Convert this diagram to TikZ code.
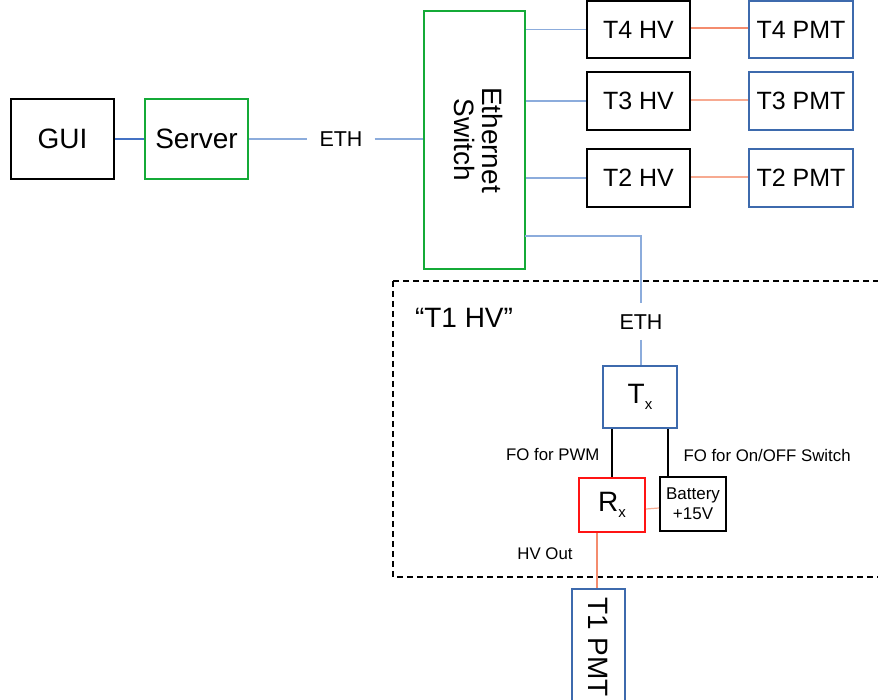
\documentclass[tikz,border=0pt]{standalone}
\usepackage{fontspec}
\setmainfont{Liberation Sans}
\usetikzlibrary{calc}

\definecolor{boxgreen}{RGB}{20,170,55}
\definecolor{boxblue}{RGB}{61,106,173}
\definecolor{ethline}{RGB}{140,172,220}
\definecolor{guiline}{RGB}{68,114,196}
\definecolor{hvline}{RGB}{244,140,110}
\definecolor{hvlight}{RGB}{247,170,145}
\definecolor{rxred}{RGB}{255,20,20}

\tikzset{
  blk/.style={draw, line width=2pt, inner sep=0pt, align=center},
  big/.style={font=\fontsize{28}{32}\selectfont},
  mid/.style={font=\fontsize{25}{28}\selectfont},
  lbl/.style={font=\fontsize{21.5}{24}\selectfont},
  small/.style={font=\fontsize{16.8}{19}\selectfont},
  eth/.style={draw=ethline, line width=1.2pt},
  hv/.style={draw=hvline, line width=1.2pt},
  fo/.style={draw=black, line width=2.2pt},
}

\begin{document}
\begin{tikzpicture}[x=1pt,y=-1pt]
\useasboundingbox (0,0) rectangle (878,700);

% control room side
\node[blk, big, minimum width=103, minimum height=80] (gui) at (62.5,139) {GUI};
\node[blk, big, draw=boxgreen, minimum width=103, minimum height=80] (server) at (196.5,139) {Server};
\node[blk, big, draw=boxgreen, minimum width=101, minimum height=258] (switch) at (474.5,140)
  {\rotatebox{-90}{\begin{tabular}{@{}c@{}}Ethernet\\[-4pt]Switch\end{tabular}}};
\node[lbl, inner xsep=12pt, inner ysep=0pt] (eth1) at (341,139) {ETH};

% high-voltage units for T2..T4 and their PMTs
\node[blk, mid, minimum width=103, minimum height=57] (t4hv) at (638.5,29.5) {T4 HV};
\node[blk, mid, minimum width=103, minimum height=58] (t3hv) at (638.5,101) {T3 HV};
\node[blk, mid, minimum width=103, minimum height=58] (t2hv) at (638.5,178) {T2 HV};
\node[blk, mid, draw=boxblue, minimum width=104, minimum height=57] (t4pmt) at (801,29.5) {T4 PMT};
\node[blk, mid, draw=boxblue, minimum width=104, minimum height=58] (t3pmt) at (801,101) {T3 PMT};
\node[blk, mid, draw=boxblue, minimum width=104, minimum height=58] (t2pmt) at (801,178) {T2 PMT};

% T1 high-voltage unit
\draw[line width=2.6pt, dash pattern=on 6pt off 4pt] (393,281) rectangle (895,577);
\node[big] (t1label) at (464,318) {“T1 HV”};
\node[lbl, inner sep=0pt, text height=15.5pt, text depth=0pt, inner ysep=10.5pt] (eth2) at (641,321.5) {ETH};
\node[blk, big, draw=boxblue, minimum width=74, minimum height=62] (tx) at (640,397)
  {T\raisebox{-0.45ex}{\fontsize{15}{15}\selectfont x}};
\node[blk, big, draw=rxred, minimum width=66, minimum height=54] (rx) at (612,505)
  {R\raisebox{-0.45ex}{\fontsize{15}{15}\selectfont x}};
\node[blk, font=\fontsize{17}{20}\selectfont, minimum width=66, minimum height=54] (bat) at (693,504)
  {Battery\\+15V};
\node[blk, big, draw=boxblue, minimum width=53, minimum height=116] (t1pmt) at (598.5,647)
  {\rotatebox{-90}{T1 PMT}};

\node[small, anchor=east] (fopwm) at (603,455) {FO for PWM};
\node[small, anchor=west] (foonoff) at (680,455) {FO for On/OFF Switch};
\node[small] (hvout) at (545,554) {HV Out};

% connectors
\draw[draw=guiline, line width=2pt] (gui) -- (server);
\draw[eth] (server) -- (eth1) -- (eth1 -| switch.west);
\draw[eth] (switch.east |- t4hv) -- (t4hv);
\draw[eth] (switch.east |- t3hv) -- (t3hv);
\draw[eth] (switch.east |- t2hv) -- (t2hv);
\coordinate (swout) at (525,236);
\draw[eth] (swout) -| (eth2.north);
\draw[eth] (eth2.south) -- (tx.north -| eth2);

\draw[hv] ($(t4hv.east)+(0,-1.5)$) -- ($(t4pmt.west)+(0,-1.5)$);
\draw[hv, draw=hvlight] ($(t3hv.east)+(0,-1)$) -- ($(t3pmt.west)+(0,-1)$);
\draw[hv, draw=hvlight] ($(t2hv.east)+(0,-1)$) -- ($(t2pmt.west)+(0,-1)$);

\draw[fo] (tx.south -| rx) -- (rx.north);
\coordinate (fobat) at ($(bat.north west)+(9,0)$);
\draw[fo] (tx.south -| fobat) -- (fobat);
\draw[hv, draw=hvlight] ($(rx.east)+(0,4)$) -- ($(bat.west)+(0,4)$);
\draw[hv] (rx.south -| 597,0) -- (t1pmt.north -| 597,0);
\end{tikzpicture}
\end{document}
